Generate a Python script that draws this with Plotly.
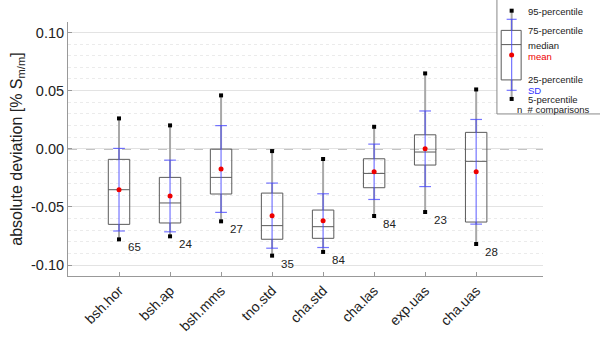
import plotly.graph_objects as go

# --- data ---
categories = ["bsh.hor", "bsh.ap", "bsh.mms", "tno.std", "cha.std", "cha.las", "exp.uas", "cha.uas"]
p95 = [0.0261, 0.0201, 0.0459, -0.0020, -0.0088, 0.0189, 0.0648, 0.0510]
q3 = [-0.0091, -0.0246, -0.0003, -0.0381, -0.0527, -0.0086, 0.0120, 0.0141]
median = [-0.0352, -0.0466, -0.0246, -0.0661, -0.0670, -0.0212, -0.0028, -0.0108]
q1 = [-0.0650, -0.0638, -0.0389, -0.0778, -0.0770, -0.0335, -0.0140, -0.0630]
p5 = [-0.0779, -0.0753, -0.0624, -0.0919, -0.0887, -0.0578, -0.0544, -0.0819]
mean = [-0.0352, -0.0406, -0.0174, -0.0575, -0.0618, -0.0198, 0.0000, -0.0198]
sd = [0.0355, 0.0308, 0.0373, 0.0280, 0.0231, 0.0238, 0.0325, 0.0450]
n_comparisons = [65, 24, 27, 35, 84, 84, 23, 28]

y_ticks = [-0.10, -0.05, 0.00, 0.05, 0.10]
y_ticktext = ["-0.10", "-0.05", "0.00", "0.05", "0.10"]

FONT = "Liberation Sans, Arial, sans-serif"
BOX_W = 0.21
CAP_W = 0.115
WHISK = "#a8a8a8"
BOXC = "#5a5a5a"
SDC = "rgba(70,70,255,0.75)"

xs = list(range(1, len(categories) + 1))

whisk_x, whisk_y = [], []
box_x, box_y = [], []
med_x, med_y = [], []
sd_x, sd_y = [], []
for i, x in enumerate(xs):
    whisk_x += [x, x, None, x, x, None]
    whisk_y += [q3[i], p95[i], None, q1[i], p5[i], None]
    box_x += [x - BOX_W, x + BOX_W, x + BOX_W, x - BOX_W, x - BOX_W, None]
    box_y += [q1[i], q1[i], q3[i], q3[i], q1[i], None]
    med_x += [x - BOX_W, x + BOX_W, None]
    med_y += [median[i], median[i], None]
    lo, hi = mean[i] - sd[i], mean[i] + sd[i]
    sd_x += [x, x, None, x - CAP_W, x + CAP_W, None, x - CAP_W, x + CAP_W, None]
    sd_y += [lo, hi, None, lo, lo, None, hi, hi, None]

fig = go.Figure()
fig.add_trace(go.Scatter(x=whisk_x, y=whisk_y, mode="lines",
                         line=dict(color=WHISK, width=2), hoverinfo="skip"))
fig.add_trace(go.Scatter(x=box_x, y=box_y, mode="lines",
                         line=dict(color=BOXC, width=1), hoverinfo="skip"))
fig.add_trace(go.Scatter(x=med_x, y=med_y, mode="lines",
                         line=dict(color=BOXC, width=1), hoverinfo="skip"))
fig.add_trace(go.Scatter(x=sd_x, y=sd_y, mode="lines",
                         line=dict(color=SDC, width=1.2), hoverinfo="skip"))
fig.add_trace(go.Scatter(x=xs + xs, y=p95 + p5, mode="markers",
                         marker=dict(symbol="square", size=4, color="black")))
fig.add_trace(go.Scatter(x=xs, y=mean, mode="markers",
                         marker=dict(symbol="circle", size=5, color="#ee0000")))

for x, y, n in zip(xs, p5, n_comparisons):
    fig.add_annotation(x=x, y=y, text=str(n), showarrow=False, xanchor="left", yanchor="middle",
                       xshift=7, yshift=-8, font=dict(family=FONT, size=11.5, color="#222222"))

# zero reference line
fig.add_shape(type="line", xref="paper", x0=0, x1=1, yref="y", y0=0, y1=0, layer="between",
              line=dict(color="#8a8a8a", width=1.5, dash="dash"))

# --- legend glyph (paper coordinates) ---
lx = 0.934
fig.add_shape(type="rect", xref="paper", yref="paper", x0=0.903, x1=1.2, y0=0.638, y1=1.2,
              fillcolor="white", line=dict(color="#888888", width=1), layer="above")
fig.add_shape(type="line", xref="paper", yref="paper", x0=lx, x1=lx, y0=0.697, y1=0.772,
              line=dict(color=WHISK, width=2), layer="above")
fig.add_shape(type="line", xref="paper", yref="paper", x0=lx, x1=lx, y0=0.967, y1=1.0445,
              line=dict(color=WHISK, width=2), layer="above")
fig.add_shape(type="rect", xref="paper", yref="paper", x0=0.912, x1=0.954, y0=0.772, y1=0.967,
              line=dict(color=BOXC, width=1), layer="above")
fig.add_shape(type="line", xref="paper", yref="paper", x0=0.912, x1=0.954, y0=0.911, y1=0.911,
              line=dict(color=BOXC, width=1), layer="above")
fig.add_shape(type="line", xref="paper", yref="paper", x0=lx, x1=lx, y0=0.731, y1=1.0106,
              line=dict(color=SDC, width=1.2), layer="above")
for yy in (0.731, 1.0106):
    fig.add_shape(type="line", xref="paper", yref="paper", xsizemode="pixel", xanchor=lx,
                  x0=-5, x1=5, y0=yy, y1=yy, line=dict(color=SDC, width=1.2), layer="above")
for yy in (0.697, 1.0445):
    fig.add_shape(type="rect", xref="paper", yref="paper", xsizemode="pixel", ysizemode="pixel",
                  xanchor=lx, yanchor=yy, x0=-2, x1=2, y0=-2, y1=2,
                  fillcolor="black", line=dict(width=0), layer="above")
fig.add_shape(type="circle", xref="paper", yref="paper", xsizemode="pixel", ysizemode="pixel",
              xanchor=lx, yanchor=0.870, x0=-2.5, x1=2.5, y0=-2.5, y1=2.5,
              fillcolor="#ee0000", line=dict(width=0), layer="above")

legend_labels = [
    ("95-percentile", 1.043, "#222222"),
    ("75-percentile", 0.965, "#222222"),
    ("median", 0.909, "#222222"),
    ("mean", 0.866, "#ee0000"),
    ("25-percentile", 0.772, "#222222"),
    ("SD", 0.732, "#3333ff"),
    ("5-percentile", 0.693, "#222222"),
]
for txt, yy, col in legend_labels:
    fig.add_annotation(xref="paper", yref="paper", x=0.9657, y=yy, text=txt, showarrow=False,
                       xanchor="left", yanchor="middle", borderpad=0,
                       font=dict(family=FONT, size=9.5, color=col))
fig.add_annotation(xref="paper", yref="paper", x=0.9435, y=0.657, text="n  # comparisons",
                   showarrow=False, xanchor="left", yanchor="middle", borderpad=0,
                   font=dict(family=FONT, size=9.5, color="#222222"))

fig.update_layout(
    width=600,
    height=338,
    showlegend=False,
    plot_bgcolor="white",
    paper_bgcolor="white",
    margin=dict(l=68, r=57, t=22, b=62),
    font=dict(family=FONT, color="#222222"),
)
fig.update_xaxes(
    range=[0, 9.31],
    tickvals=xs,
    ticktext=categories,
    tickangle=-45,
    tickfont=dict(size=14),
    ticks="inside",
    ticklen=4,
    tickcolor="#999999",
    showgrid=False,
    showline=True,
    linecolor="#999999",
    zeroline=False,
    automargin=False,
)
fig.update_yaxes(
    range=[-0.1094, 0.109],
    tickvals=y_ticks,
    ticktext=y_ticktext,
    tickfont=dict(size=14.5),
    ticks="inside",
    ticklen=4,
    tickcolor="#999999",
    showgrid=True,
    gridcolor="#e3e3e3",
    showline=True,
    linecolor="#999999",
    zeroline=False,
    automargin=False,
    minor=dict(dtick=0.01, tick0=0, showgrid=True, gridcolor="#ebebeb", griddash="dot"),
    title=dict(text="absolute deviation [% S<sub>m/m</sub>]", font=dict(size=16), standoff=4),
)

fig.write_html("out.html", config={"displayModeBar": False},
               post_script="document.body.style.margin='0';")
